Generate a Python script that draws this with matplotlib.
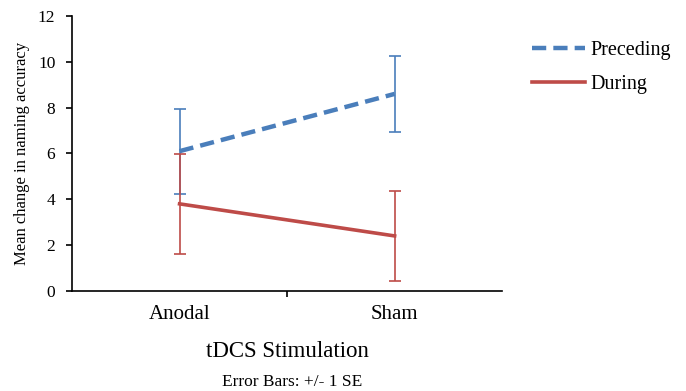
import numpy as np
import matplotlib
matplotlib.use("Agg")
import matplotlib.pyplot as plt

plt.rcParams['font.family'] = ['Liberation Serif', 'DejaVu Serif']

# Datos
conditions = ['Anodal', 'Sham']
preceding = [6.1, 8.6]
preceding_se = [1.85, 1.67]
during = [3.8, 2.4]
during_se = [2.17, 1.96]

blue = '#4a7ebb'
red = '#be4b48'

fig = plt.figure(figsize=(6.86, 3.91), dpi=100)
ax = fig.add_axes([0.105, 0.256, 0.627, 0.703])

x = np.arange(len(conditions))
ax.errorbar(x, preceding, yerr=preceding_se, color=blue, lw=3.2,
            ls=(0, (3.2, 1.6)), ecolor=blue, elinewidth=1.2, capsize=4,
            capthick=1.2, label='Preceding')
ax.errorbar(x, during, yerr=during_se, color=red, lw=2.6,
            ecolor=red, elinewidth=1.2, capsize=4, capthick=1.2,
            label='During')

ax.set_xlim(-0.5, 1.5)
ax.set_ylim(0, 12)
ax.set_yticks(np.arange(0, 13, 2))
ax.set_xticks([0.5])
ax.set_xticklabels([''])
for xi, lab in zip(x, conditions):
    ax.text(xi, -0.6, lab, ha='center', va='top', fontsize=15)

for s in ['top', 'right']:
    ax.spines[s].set_visible(False)
for s in ['left', 'bottom']:
    ax.spines[s].set_linewidth(1.2)
ax.tick_params(axis='both', direction='out', length=4, width=1.2,
               labelsize=12.5, pad=8)

ax.set_ylabel('Mean change in naming accuracy', fontsize=12, labelpad=6)
fig.text(0.419, 0.088, 'tDCS Stimulation', ha='center', fontsize=16.5)
fig.text(0.426, 0.014, 'Error Bars: +/- 1 SE', ha='center', fontsize=12.5)

handles, labels = ax.get_legend_handles_labels()
handles = [h[0] for h in handles]
fig.legend(handles, labels, loc='upper left', bbox_to_anchor=(0.77, 0.905),
           frameon=False, fontsize=14.5, handlelength=2.6, labelspacing=0.75,
           handletextpad=0.3, borderaxespad=0, borderpad=0.2)

fig.savefig('out.png', dpi=100)
